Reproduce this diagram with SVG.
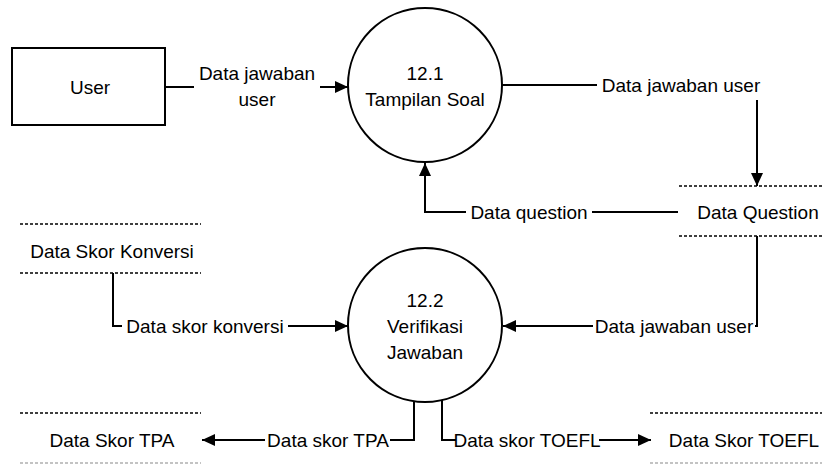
<svg xmlns="http://www.w3.org/2000/svg" width="822" height="464" viewBox="0 0 822 464">
  <defs>
    <marker id="arrow" markerUnits="userSpaceOnUse" markerWidth="14" markerHeight="12" refX="13" refY="6" orient="auto">
      <path d="M0,0 L13,6 L0,12 Z" fill="#000"/>
    </marker>
    <style>
      text { font-family: "Liberation Sans", Arial, sans-serif; font-size: 19px; fill: #000; text-anchor: middle; }
      .shape { fill: #fff; stroke: #000; stroke-width: 2; }
      .flow { fill: none; stroke: #000; stroke-width: 2; }
      .store { stroke: #000; stroke-width: 1.6; stroke-dasharray: 3 2; }
      .store-faint { stroke: #b0b0b0; stroke-width: 1.6; stroke-dasharray: 3 2; }
    </style>
  </defs>

  <!-- connectors -->
  <g id="connectors">
    <!-- User -> 12.1 -->
    <line class="flow" x1="165" y1="87" x2="194" y2="87"/>
    <line class="flow" x1="320" y1="87" x2="348" y2="87" marker-end="url(#arrow)"/>
    <text x="257" y="80">Data jawaban</text>
    <text x="257" y="106">user</text>

    <!-- 12.1 -> Data Question -->
    <polyline class="flow" points="502,85 597,85"/>
    <text x="681" y="92">Data jawaban user</text>
    <line class="flow" x1="757" y1="100" x2="757" y2="186" marker-end="url(#arrow)"/>

    <!-- Data Question -> 12.1 -->
    <line class="flow" x1="678" y1="212" x2="592" y2="212"/>
    <text x="529" y="219">Data question</text>
    <polyline class="flow" points="466,212 425,212 425,163" marker-end="url(#arrow)"/>

    <!-- Data Question -> 12.2 -->
    <polyline class="flow" points="757,236 757,326 755,326"/>
    <text x="674" y="333">Data jawaban user</text>
    <line class="flow" x1="593" y1="326" x2="503" y2="326" marker-end="url(#arrow)"/>

    <!-- Data Skor Konversi -> 12.2 -->
    <polyline class="flow" points="113,273 113,326 122,326"/>
    <text x="205" y="333">Data skor konversi</text>
    <line class="flow" x1="288" y1="326" x2="348" y2="326" marker-end="url(#arrow)"/>

    <!-- 12.2 -> Data Skor TPA -->
    <polyline class="flow" points="414,401 414,440 390,440"/>
    <text x="328" y="447">Data skor TPA</text>
    <line class="flow" x1="265" y1="440" x2="202" y2="440" marker-end="url(#arrow)"/>

    <!-- 12.2 -> Data Skor TOEFL -->
    <polyline class="flow" points="442,400 442,440 456,440"/>
    <text x="527" y="447">Data skor TOEFL</text>
    <line class="flow" x1="599" y1="440" x2="651" y2="440" marker-end="url(#arrow)"/>
  </g>

  <!-- external entity -->
  <g id="user">
    <rect class="shape" x="12" y="48" width="153" height="77"/>
    <text x="90" y="94">User</text>
  </g>

  <!-- processes -->
  <g id="process-12-1">
    <circle class="shape" cx="425" cy="85" r="77"/>
    <text x="425" y="80">12.1</text>
    <text x="425" y="106">Tampilan Soal</text>
  </g>

  <g id="process-12-2">
    <circle class="shape" cx="425" cy="325" r="77"/>
    <text x="425" y="307">12.2</text>
    <text x="425" y="333">Verifikasi</text>
    <text x="425" y="359">Jawaban</text>
  </g>

  <!-- data stores -->
  <g id="store-data-question">
    <line class="store" x1="679" y1="186" x2="822" y2="186"/>
    <text x="758" y="219">Data Question</text>
    <line class="store" x1="679" y1="236" x2="822" y2="236"/>
  </g>

  <g id="store-skor-konversi">
    <line class="store" x1="20" y1="224" x2="201" y2="224"/>
    <text x="112" y="258">Data Skor Konversi</text>
    <line class="store" x1="20" y1="273" x2="201" y2="273"/>
  </g>

  <g id="store-skor-tpa">
    <line class="store" x1="20" y1="413" x2="201" y2="413"/>
    <text x="112" y="447">Data Skor TPA</text>
    <line class="store-faint" x1="20" y1="463" x2="201" y2="463"/>
  </g>

  <g id="store-skor-toefl">
    <line class="store" x1="650" y1="413" x2="822" y2="413"/>
    <text x="744" y="447">Data Skor TOEFL</text>
    <line class="store-faint" x1="650" y1="463" x2="822" y2="463"/>
  </g>
</svg>
